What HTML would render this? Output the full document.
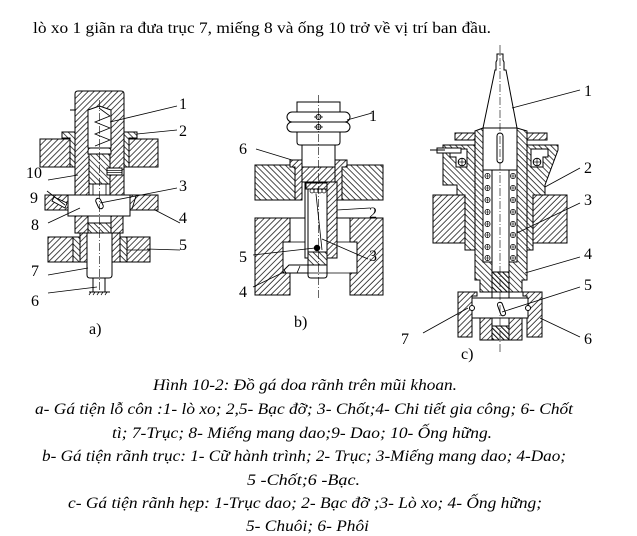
<!DOCTYPE html>
<html><head><meta charset="utf-8"><style>
html,body{margin:0;padding:0;background:#fff;}
svg{display:block;}
text{font-family:"Liberation Serif","Noto Serif CJK SC",serif;fill:#000;}
</style></head><body>
<svg width="637" height="536" viewBox="0 0 637 536" xmlns="http://www.w3.org/2000/svg">
<defs>
<pattern id="h1" width="4.2" height="4.2" patternUnits="userSpaceOnUse" patternTransform="rotate(45)"><rect width="4.2" height="4.2" fill="#fff"/><line x1="1" y1="0" x2="1" y2="4.2" stroke="#000" stroke-width="0.7"/></pattern>
<pattern id="h2" width="4.2" height="4.2" patternUnits="userSpaceOnUse" patternTransform="rotate(-45)"><rect width="4.2" height="4.2" fill="#fff"/><line x1="1" y1="0" x2="1" y2="4.2" stroke="#000" stroke-width="0.7"/></pattern>
<pattern id="h3" width="3.6" height="3.6" patternUnits="userSpaceOnUse" patternTransform="rotate(-45)"><rect width="3.6" height="3.6" fill="#fff"/><line x1="1" y1="0" x2="1" y2="3.6" stroke="#000" stroke-width="1"/></pattern>
</defs>
<rect width="637" height="536" fill="#fff"/>

<text x="33" y="33" font-size="16" textLength="458" lengthAdjust="spacingAndGlyphs">lò xo 1 giãn ra đưa trục 7, miếng 8 và ống 10 trở về vị trí ban đầu.</text>

<!-- ================= Drawing a ================= -->
<g stroke="#000" stroke-width="1" fill="#fff">
  <rect x="40" y="139" width="30" height="28" fill="url(#h1)"/>
  <rect x="129" y="139" width="29" height="28" fill="url(#h1)"/>
  <path d="M62,132 H75 V167 H70 V138 H62 Z" fill="url(#h2)"/>
  <path d="M137,132 H124 V167 H129 V138 H137 Z" fill="url(#h2)"/>
  <path d="M75,195 V94 Q75,91 78,91 H121 Q124,91 124,94 V195 Z" fill="url(#h1)"/>
  <line x1="70" y1="110" x2="76" y2="110"/>
  <path d="M88,148 V110 L99.5,106 L111,110 V148 Z" fill="#fff"/>
  <polyline points="99,108 110,116 95,122 110,128 95,134 110,140 95,146" fill="none" stroke-width="0.8"/>
  <path d="M88,154 V151 Q88,148 91,148 H108 Q111,148 111,151 V154 Z" fill="#fff"/>
  <rect x="89" y="154" width="21" height="30" fill="url(#h2)"/>
  <rect x="89" y="184" width="21" height="11" fill="#fff"/>
  <line x1="93" y1="184" x2="93" y2="195" stroke-width="0.8"/>
  <line x1="106" y1="184" x2="106" y2="195" stroke-width="0.8"/>
  <rect x="107" y="168" width="15" height="7" fill="#fff"/>
  <line x1="107" y1="170.5" x2="122" y2="170.5" stroke-width="0.7"/>
  <line x1="107" y1="172.5" x2="122" y2="172.5" stroke-width="0.7"/>
  <rect x="45" y="195" width="23" height="15" fill="url(#h1)"/>
  <rect x="130" y="195" width="28" height="15" fill="url(#h1)"/>
  <line x1="136" y1="196" x2="132" y2="209" stroke-width="0.9"/>
  <path d="M54,197 L67,203 L65,208 L52,201 Z" fill="#fff" stroke-width="0.9"/>
  <rect x="68" y="195" width="62" height="21" fill="#fff"/>
  <rect x="97" y="198" width="5" height="11" rx="2.5" transform="rotate(-25 99.5 203.5)" fill="#fff"/>
  <rect x="75" y="216" width="48" height="17" fill="url(#h1)"/>
  <rect x="88" y="216" width="23" height="7" fill="#fff"/>
  <rect x="88" y="223" width="23" height="10" fill="url(#h2)"/>
  <rect x="80" y="233" width="7" height="29" fill="url(#h1)"/>
  <rect x="112" y="233" width="8" height="29" fill="url(#h1)"/>
  <rect x="73" y="237" width="7" height="25" fill="url(#h2)"/>
  <rect x="120" y="237" width="7" height="25" fill="url(#h2)"/>
  <rect x="48" y="237" width="25" height="25" fill="url(#h1)"/>
  <rect x="127" y="237" width="23" height="25" fill="url(#h1)"/>
  <line x1="127" y1="250" x2="150" y2="250" stroke-width="0.8"/>
  <path d="M87,233 V275 Q87,278 90,278 H109 Q112,278 112,275 V233 Z" fill="#fff"/>
  <rect x="93" y="278" width="12" height="14" fill="#fff"/>
  <line x1="89" y1="292" x2="110" y2="292"/>
  <g stroke-width="0.7">
    <line x1="91" y1="292" x2="89" y2="295"/><line x1="95" y1="292" x2="93" y2="295"/>
    <line x1="99" y1="292" x2="97" y2="295"/><line x1="103" y1="292" x2="101" y2="295"/>
    <line x1="107" y1="292" x2="105" y2="295"/>
  </g>
  <line x1="99.5" y1="100" x2="99.5" y2="292" stroke-width="0.6" stroke-dasharray="8,2,1,2" fill="none"/>
  <g stroke-width="0.8" fill="none">
    <line x1="177" y1="106" x2="110" y2="122"/>
    <line x1="177" y1="130" x2="137" y2="134"/>
    <line x1="48" y1="180" x2="78" y2="175"/>
    <line x1="47" y1="191" x2="65" y2="205"/>
    <line x1="177" y1="188" x2="100" y2="203"/>
    <line x1="48" y1="223" x2="80" y2="208"/>
    <line x1="180" y1="223" x2="155" y2="210"/>
    <line x1="180" y1="250" x2="147" y2="249"/>
    <line x1="48" y1="275" x2="88" y2="268"/>
    <line x1="48" y1="293" x2="97" y2="287"/>
  </g>
</g>
<g font-size="16">
  <text x="179" y="109">1</text>
  <text x="179" y="136">2</text>
  <text x="26" y="178">10</text>
  <text x="30" y="203">9</text>
  <text x="179" y="191">3</text>
  <text x="31" y="230">8</text>
  <text x="179" y="223">4</text>
  <text x="179" y="250">5</text>
  <text x="31" y="276">7</text>
  <text x="31" y="306">6</text>
  <text x="89" y="334">a)</text>
</g>

<!-- ================= Drawing b ================= -->
<g stroke="#000" stroke-width="1" fill="#fff">
  <path d="M297,102 H340 V142 Q340,145 337,145 H300 Q297,145 297,142 Z" fill="#fff"/>
  <rect x="287" y="112" width="63" height="10" rx="5" fill="#fff"/>
  <rect x="287" y="122" width="63" height="10" rx="5" fill="#fff"/>
  <circle cx="318.5" cy="117" r="2.5" fill="#fff"/>
  <circle cx="318.5" cy="127" r="2.5" fill="#fff"/>
  <line x1="314" y1="117" x2="323" y2="117" stroke-width="0.7"/>
  <line x1="314" y1="127" x2="323" y2="127" stroke-width="0.7"/>
  <rect x="302" y="145" width="33" height="22" fill="#fff"/>
  <rect x="255" y="165" width="40" height="35" fill="url(#h2)"/>
  <rect x="342" y="165" width="41" height="35" fill="url(#h2)"/>
  <path d="M290,160 H302 V200 H295 V167 H290 Z" fill="url(#h1)"/>
  <path d="M347,160 H335 V200 H342 V167 H347 Z" fill="url(#h1)"/>
  <rect x="302" y="167" width="33" height="15" fill="url(#h1)"/>
  <rect x="305" y="182" width="32" height="76" fill="#fff"/>
  <rect x="327" y="182" width="10" height="76" fill="url(#h1)"/>
  <path d="M308,186 V275 Q308,278 311,278 H324 Q327,278 327,275 V186 Z" fill="#fff"/>
  <rect x="306" y="183" width="21" height="6" fill="url(#h1)"/>
  <g fill="#fff" stroke-width="0.7">
    <circle cx="312" cy="191" r="2"/><circle cx="316" cy="191" r="2"/><circle cx="320" cy="191" r="2"/><circle cx="324" cy="191" r="2"/>
  </g>
  <line x1="316" y1="194" x2="322" y2="250" stroke-width="0.8"/>
  <rect x="308" y="252" width="19" height="13" fill="url(#h2)"/>
  <path d="M255,218 H290 V242 H283 V273 H290 V295 H255 Z" fill="url(#h1)"/>
  <path d="M383,218 H350 V242 H357 V273 H350 V295 H383 Z" fill="url(#h1)"/>
  <line x1="290" y1="218" x2="305" y2="218"/>
  <line x1="337" y1="218" x2="350" y2="218"/>
  <line x1="290" y1="242" x2="305" y2="242" stroke-width="0.8"/>
  <line x1="337" y1="242" x2="350" y2="242" stroke-width="0.8"/>
  <line x1="290" y1="273" x2="350" y2="273" stroke-width="0.8"/>
  <path d="M308,265 H289 L284,270 L286,273 H308 Z" fill="#fff"/>
  <line x1="297" y1="273" x2="300" y2="266" stroke-width="0.8"/>
  <circle cx="317" cy="248" r="2.7" fill="#000"/>
  <line x1="318.5" y1="95" x2="318.5" y2="300" stroke-width="0.6" stroke-dasharray="8,2,1,2" fill="none"/>
  <g stroke-width="0.8" fill="none">
    <line x1="372" y1="113" x2="347" y2="120"/>
    <line x1="256" y1="149" x2="292" y2="160"/>
    <line x1="370" y1="208" x2="337" y2="210"/>
    <line x1="253" y1="255" x2="315" y2="248"/>
    <line x1="368" y1="259" x2="322" y2="239"/>
    <line x1="253" y1="287" x2="284" y2="272"/>
  </g>
</g>
<g font-size="16">
  <text x="369" y="121">1</text>
  <text x="239" y="154">6</text>
  <text x="369" y="218">2</text>
  <text x="239" y="262">5</text>
  <text x="369" y="261">3</text>
  <text x="239" y="297">4</text>
  <text x="294" y="327">b)</text>
</g>

<!-- ================= Drawing c ================= -->
<g stroke="#000" stroke-width="1" fill="#fff">
  <path d="M497,54 H503 V60 L504,62 V70 H506 L517,128 H483 L495,70 H496 V62 L497,60 Z" fill="#fff"/>
  <path d="M443,145 H475 V250 H465 V195 H457 V185 H443 Z" fill="url(#h2)"/>
  <path d="M450,149 H467 V167 H456 V157 H450 Z" fill="#fff"/>
  <circle cx="462" cy="162" r="3.8" fill="#fff"/>
  <line x1="458.5" y1="162" x2="465.5" y2="162" stroke-width="0.7"/>
  <line x1="462" y1="158.5" x2="462" y2="165.5" stroke-width="0.7"/>
  <rect x="455" y="133" width="20" height="7" fill="url(#h1)"/>
  <rect x="437" y="148" width="24" height="5" fill="#fff"/>
  <line x1="430" y1="150" x2="445" y2="150"/>
  <path d="M527,145 H558 V150 L545,185 V195 H533 V250 H527 Z" fill="url(#h2)"/>
  <path d="M531,149 H548 V157 H543 V167 H531 Z" fill="#fff"/>
  <circle cx="537" cy="162" r="3.8" fill="#fff"/>
  <line x1="533.5" y1="162" x2="540.5" y2="162" stroke-width="0.7"/>
  <line x1="537" y1="158.5" x2="537" y2="165.5" stroke-width="0.7"/>
  <rect x="527" y="133" width="20" height="7" fill="url(#h1)"/>
  <rect x="433" y="195" width="32" height="48" fill="url(#h1)"/>
  <rect x="533" y="195" width="34" height="48" fill="url(#h1)"/>
  <path d="M475,131 L483,128 V262 H492 V292 H480 V280 H475 Z" fill="url(#h2)"/>
  <path d="M527,131 L517,128 V262 H509 V292 H522 V280 H527 Z" fill="url(#h2)"/>
  <rect x="483" y="128" width="34" height="42" fill="#fff"/>
  <rect x="497" y="133" width="6" height="30" rx="3" fill="#fff"/>
  <rect x="483" y="170" width="34" height="92" fill="#fff"/>
  <rect x="492" y="170" width="17" height="102" fill="#fff"/>
  <g stroke-width="0.7" fill="#fff">
    <circle cx="487.5" cy="176" r="2.6"/><circle cx="487.5" cy="188" r="2.6"/><circle cx="487.5" cy="200" r="2.6"/><circle cx="487.5" cy="212" r="2.6"/>
    <circle cx="487.5" cy="224" r="2.6"/><circle cx="487.5" cy="235" r="2.6"/><circle cx="487.5" cy="247" r="2.6"/><circle cx="487.5" cy="258" r="2.6"/>
    <circle cx="513" cy="176" r="2.6"/><circle cx="513" cy="188" r="2.6"/><circle cx="513" cy="200" r="2.6"/><circle cx="513" cy="212" r="2.6"/>
    <circle cx="513" cy="224" r="2.6"/><circle cx="513" cy="235" r="2.6"/><circle cx="513" cy="247" r="2.6"/><circle cx="513" cy="258" r="2.6"/>
  </g>
  <g stroke-width="0.6">
    <path d="M485,176 H490 M487.5,173.5 V178.5 M485,188 H490 M487.5,185.5 V190.5 M485,200 H490 M487.5,197.5 V202.5 M485,212 H490 M487.5,209.5 V214.5 M485,224 H490 M487.5,221.5 V226.5 M485,235 H490 M487.5,232.5 V237.5 M485,247 H490 M487.5,244.5 V249.5 M485,258 H490 M487.5,255.5 V260.5"/>
    <path d="M510.5,176 H515.5 M513,173.5 V178.5 M510.5,188 H515.5 M513,185.5 V190.5 M510.5,200 H515.5 M513,197.5 V202.5 M510.5,212 H515.5 M513,209.5 V214.5 M510.5,224 H515.5 M513,221.5 V226.5 M510.5,235 H515.5 M513,232.5 V237.5 M510.5,247 H515.5 M513,244.5 V249.5 M510.5,258 H515.5 M513,255.5 V260.5"/>
  </g>
  <rect x="492" y="272" width="17" height="20" fill="url(#h3)"/>
  <line x1="492" y1="292" x2="492" y2="298"/>
  <line x1="509" y1="292" x2="509" y2="298"/>
  <path d="M458,292 H477 V296 H472 V337 H458 Z" fill="url(#h1)"/>
  <path d="M542,292 H523 V296 H527 V337 H542 Z" fill="url(#h1)"/>
  <rect x="472" y="298" width="56" height="20" fill="#fff"/>
  <circle cx="472" cy="308" r="2.5" fill="#fff"/>
  <circle cx="528" cy="308" r="2.5" fill="#fff"/>
  <rect x="499" y="302" width="5" height="14" rx="2.5" transform="rotate(-20 501.5 309)" fill="#fff"/>
  <rect x="480" y="318" width="12" height="22" fill="url(#h1)"/>
  <rect x="509" y="318" width="13" height="22" fill="url(#h1)"/>
  <rect x="492" y="318" width="17" height="8" fill="#fff"/>
  <rect x="492" y="326" width="17" height="14" fill="url(#h3)"/>
  <line x1="500" y1="45" x2="500" y2="352" stroke-width="0.6" stroke-dasharray="8,2,1,2" fill="none"/>
  <g stroke-width="0.8" fill="none">
    <line x1="580" y1="90" x2="512" y2="108"/>
    <line x1="580" y1="168" x2="545" y2="187"/>
    <line x1="580" y1="203" x2="517" y2="233"/>
    <line x1="580" y1="257" x2="525" y2="273"/>
    <line x1="580" y1="287" x2="502" y2="312"/>
    <line x1="580" y1="337" x2="540" y2="318"/>
    <line x1="423" y1="333" x2="468" y2="308"/>
  </g>
</g>
<g font-size="16">
  <text x="584" y="96">1</text>
  <text x="584" y="173">2</text>
  <text x="584" y="205">3</text>
  <text x="584" y="259">4</text>
  <text x="584" y="290">5</text>
  <text x="584" y="344">6</text>
  <text x="401" y="344">7</text>
  <text x="461" y="359">c)</text>
</g>

<!-- ================= Caption ================= -->
<g font-size="16" font-style="italic">
  <text x="153" y="390" textLength="304" lengthAdjust="spacingAndGlyphs">Hình 10-2: Đồ gá doa rãnh trên mũi khoan.</text>
  <text x="35" y="414" textLength="538" lengthAdjust="spacingAndGlyphs">a- Gá tiện lỗ côn :1- lò xo; 2,5- Bạc đỡ; 3- Chốt;4- Chi tiết gia công; 6- Chốt</text>
  <text x="112" y="438" textLength="380" lengthAdjust="spacingAndGlyphs">tì; 7-Trục; 8- Miếng mang dao;9- Dao; 10- Ống hững.</text>
  <text x="42" y="461" textLength="524" lengthAdjust="spacingAndGlyphs">b- Gá tiện rãnh trục: 1- Cữ hành trình; 2- Trục; 3-Miếng mang dao; 4-Dao;</text>
  <text x="247" y="485" textLength="113" lengthAdjust="spacingAndGlyphs">5 -Chốt;6 -Bạc.</text>
  <text x="68" y="508" textLength="474" lengthAdjust="spacingAndGlyphs">c- Gá tiện rãnh hẹp: 1-Trục dao; 2- Bạc đỡ ;3- Lò xo; 4- Ống hững;</text>
  <text x="246" y="531" textLength="123" lengthAdjust="spacingAndGlyphs">5- Chuôi; 6- Phôi</text>
</g>
</svg>
</body></html>
